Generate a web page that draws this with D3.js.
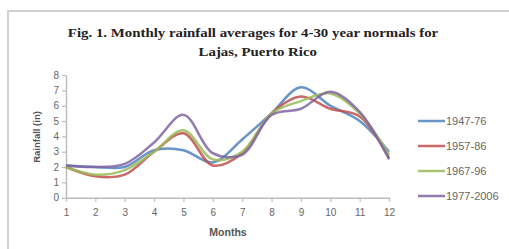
<!DOCTYPE html>
<html>
<head>
<meta charset="utf-8">
<script src="https://cdn.jsdelivr.net/npm/d3@7"></script>
<style>
  body { margin: 0; background: #fff; }
  svg { display: block; }
</style>
</head>
<body>
<svg></svg>
<script>
var months = [1, 2, 3, 4, 5, 6, 7, 8, 9, 10, 11, 12];
var seriesNames = ["1947-76", "1957-86", "1967-96", "1977-2006"];
var rain4776 = [2.1, 2.0, 2.0, 3.1, 3.1, 2.3, 3.8, 5.5, 7.2, 6.0, 5.0, 3.0];
var rain5786 = [2.0, 1.4, 1.5, 3.0, 4.2, 2.1, 2.9, 5.5, 6.6, 5.8, 5.3, 2.6];
var rain6796 = [2.0, 1.5, 1.8, 3.0, 4.4, 2.5, 3.0, 5.5, 6.3, 6.8, 5.5, 2.8];
var rain7706 = [2.1, 2.0, 2.2, 3.6, 5.4, 2.9, 2.8, 5.4, 5.8, 6.9, 5.6, 2.5];
var yTicks = [0, 1, 2, 3, 4, 5, 6, 7, 8];
var colors = ["#4f81bd", "#c0504d", "#9bbb59", "#8064a2"];

var allSeries = [rain4776, rain5786, rain6796, rain7706];

var W = 509, H = 249;
var svg = d3.select("svg").attr("width", W).attr("height", H);

// frame
svg.append("rect")
    .attr("x", 8).attr("y", 11)
    .attr("width", 520).attr("height", 260)
    .attr("fill", "#fff")
    .attr("stroke", "#d0d0d0")
    .attr("stroke-width", 2);

// title (slightly stretched like the scanned figure)
var title = svg.append("text")
    .attr("text-anchor", "middle")
    .attr("transform", "translate(253,0) scale(1.19,1)")
    .style("font-family", "'Liberation Serif', 'Times New Roman', serif")
    .style("font-weight", "bold")
    .style("font-size", "12.5px")
    .attr("fill", "#222");
title.append("tspan").attr("x", 0).attr("y", 37)
    .text("Fig. 1. Monthly rainfall averages for 4-30 year normals for");
title.append("tspan").attr("x", 4).attr("y", 56)
    .text("Lajas, Puerto Rico");

var xScale = d3.scaleLinear().domain([1, 12]).range([66, 389]);
var yScale = d3.scaleLinear().domain([0, 8]).range([197.7, 75]);

var xAxis = svg.append("g")
    .attr("transform", "translate(0," + yScale(0) + ")")
    .call(d3.axisBottom(xScale).tickValues(months).tickFormat(d3.format("d"))
        .tickSize(4).tickSizeOuter(0));

var yAxis = svg.append("g")
    .attr("transform", "translate(" + xScale(1) + ",0)")
    .call(d3.axisLeft(yScale).tickValues(yTicks).tickFormat(d3.format("d"))
        .tickSize(4).tickSizeOuter(0));

[xAxis, yAxis].forEach(function(ax) {
    ax.select(".domain").attr("stroke", "#bcbcbc").attr("stroke-width", 1.5);
    ax.selectAll(".tick line").attr("stroke", "#bcbcbc").attr("stroke-width", 1.2);
    ax.selectAll(".tick text")
        .attr("fill", "#666")
        .style("font-family", "'Liberation Sans', Arial, sans-serif")
        .style("font-size", "10px");
});
xAxis.selectAll(".tick text").attr("dy", "1.15em");

// axis titles
svg.append("text")
    .attr("x", 228).attr("y", 236)
    .attr("text-anchor", "middle")
    .style("font-family", "'Liberation Sans', Arial, sans-serif")
    .style("font-size", "10.5px")
    .style("font-weight", "bold")
    .attr("fill", "#555")
    .text("Months");

svg.append("text")
    .attr("transform", "translate(40,137) rotate(-90)")
    .attr("text-anchor", "middle")
    .style("font-family", "'Liberation Sans', Arial, sans-serif")
    .style("font-size", "9.5px")
    .style("font-weight", "bold")
    .attr("fill", "#555")
    .text("Rainfall (in)");

// lines
var line = d3.line()
    .x(function(d, i) { return xScale(months[i]); })
    .y(function(d) { return yScale(d); })
    .curve(d3.curveCatmullRom.alpha(0.5));

svg.selectAll("path.series")
    .data(allSeries)
    .enter().append("path")
    .attr("class", "series")
    .attr("d", line)
    .attr("fill", "none")
    .attr("stroke", function(d, i) { return colors[i]; })
    .attr("stroke-width", 2.5)
    .attr("stroke-opacity", 0.85);

// legend
var legend = svg.selectAll(".legend")
    .data(seriesNames)
    .enter().append("g")
    .attr("class", "legend")
    .attr("transform", function(d, i) { return "translate(0," + (121 + i * 25) + ")"; });

legend.append("line")
    .attr("x1", 418).attr("x2", 445)
    .attr("y1", 0).attr("y2", 0)
    .attr("stroke", function(d, i) { return colors[i]; })
    .attr("stroke-width", 2.5)
    .attr("stroke-opacity", 0.85);

legend.append("text")
    .attr("x", 446)
    .attr("dy", "0.35em")
    .style("font-family", "'Liberation Sans', Arial, sans-serif")
    .style("font-size", "11px")
    .attr("fill", "#666")
    .text(function(d) { return d; });
</script>
</body>
</html>
